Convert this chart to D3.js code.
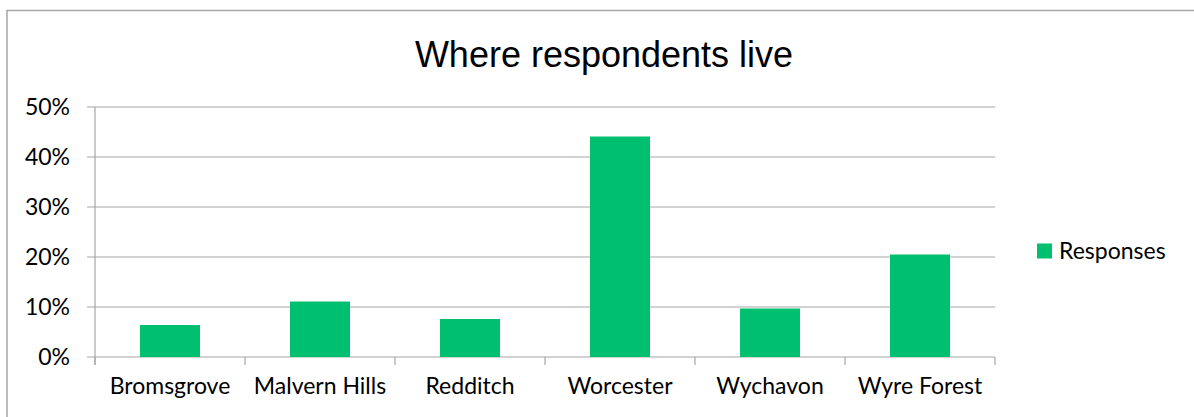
<!DOCTYPE html>
<html>
<head>
<meta charset="utf-8">
<script src="https://cdn.jsdelivr.net/npm/d3@7"></script>
<style>
body { margin: 0; background: #fff; }
svg { display: block; }
</style>
</head>
<body>
<svg id="chart"></svg>
<script>
var categories = ["Bromsgrove", "Malvern Hills", "Redditch", "Worcester", "Wychavon", "Wyre Forest"];
var responses = [0.064, 0.111, 0.076, 0.441, 0.097, 0.205];
var yTicks = [0, 0.1, 0.2, 0.3, 0.4, 0.5];
var seriesName = "Responses";

var width = 1194,
    height = 417;

var svg = d3.select("#chart").attr("width", width).attr("height", height);

// outer chart frame (runs off the right and bottom edge)
svg.append("rect").attr("x", 7).attr("y", 10.5).attr("width", 1200).attr("height", 430)
	.attr("fill", "none").attr("stroke", "#a6a6a6").attr("stroke-width", 1.5);

svg.append("text").text("Where respondents live").attr("x", 604).attr("y", 66.5)
	.attr("text-anchor", "middle").style("font-family", "Liberation Sans, Arial, sans-serif")
	.style("font-size", "36px").attr("fill", "#000");

var plotLeft = 95, plotRight = 995, plotTop = 107, plotBottom = 357;

var x = d3.scaleBand().domain(categories).range([plotLeft, plotRight]).paddingInner(0.6).paddingOuter(0.3);
var y = d3.scaleLinear().domain([0, 0.5]).range([plotBottom, plotTop]);

// gridlines
svg.append("g").selectAll("line").data(yTicks).enter().append("line")
	.attr("x1", plotLeft - 8).attr("x2", plotRight).attr("y1", function(d) { return y(d); }).attr("y2", function(d) { return y(d); })
	.attr("stroke", "#a6a6a6").attr("stroke-width", 1.2);

// y axis line
svg.append("line").attr("x1", plotLeft).attr("x2", plotLeft).attr("y1", plotTop).attr("y2", plotBottom + 8)
	.attr("stroke", "#a6a6a6").attr("stroke-width", 1.2);

// x ticks between categories
var bandStep = (plotRight - plotLeft) / categories.length;
svg.append("g").selectAll("line").data(d3.range(categories.length + 1)).enter().append("line")
	.attr("x1", function(i) { return plotLeft + i * bandStep; }).attr("x2", function(i) { return plotLeft + i * bandStep; })
	.attr("y1", plotBottom).attr("y2", plotBottom + 8)
	.attr("stroke", "#a6a6a6").attr("stroke-width", 1.2);

// y labels
svg.append("g").selectAll("text").data(yTicks).enter().append("text")
	.text(function(d) { return d3.format(".0%")(d); })
	.attr("x", 70).attr("y", function(d) { return y(d); }).attr("dy", "0.35em")
	.attr("text-anchor", "end").style("font-family", "Lato, sans-serif").style("font-size", "23px").attr("fill", "#000");

// bars
svg.append("g").selectAll("rect").data(responses).enter().append("rect")
	.attr("x", function(d, i) { return x(categories[i]); })
	.attr("width", x.bandwidth())
	.attr("y", function(d) { return y(d); })
	.attr("height", function(d) { return y(0) - y(d); })
	.attr("fill", "#00bf6f");

// category labels
svg.append("g").selectAll("text").data(categories).enter().append("text")
	.text(function(d) { return d; })
	.attr("x", function(d) { return x(d) + x.bandwidth() / 2; }).attr("y", 394)
	.attr("text-anchor", "middle").style("font-family", "Lato, sans-serif").style("font-size", "23px").attr("fill", "#000");

// legend
svg.append("rect").attr("x", 1037).attr("y", 243.5).attr("width", 15).attr("height", 15).attr("fill", "#00bf6f");
svg.append("text").text(seriesName).attr("x", 1059).attr("y", 259)
	.style("font-family", "Lato, sans-serif").style("font-size", "23px").attr("fill", "#000");
</script>
</body>
</html>
